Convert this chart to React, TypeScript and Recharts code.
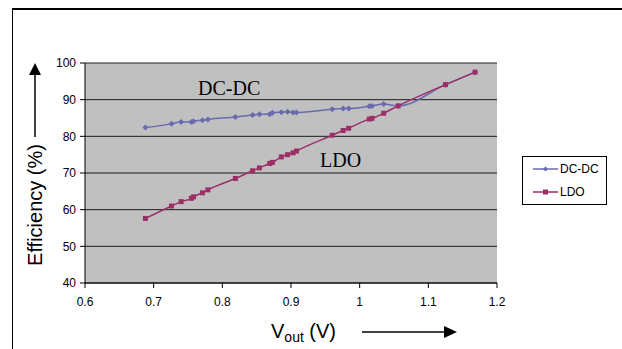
import React from "react";
import {
    LineChart,
    Line,
    XAxis,
    YAxis,
    CartesianGrid,
    Customized,
} from "recharts";

// Output voltage (V), shared by both series
const vout = [
    0.688, 0.726, 0.74, 0.755, 0.758, 0.771, 0.779, 0.819, 0.844, 0.854, 0.869, 0.873, 0.886,
    0.895, 0.903, 0.908, 0.96, 0.976, 0.984, 1.014, 1.018, 1.035, 1.056, 1.125, 1.168,
];

// Efficiency (%) per series
const dcdc = [
    82.4, 83.4, 83.9, 83.9, 84.1, 84.4, 84.6, 85.3, 85.8, 86.0, 86.0, 86.4, 86.6,
    86.7, 86.5, 86.5, 87.4, 87.6, 87.6, 88.2, 88.3, 88.8, 88.3, 94.1, 97.5,
];
const ldo = [
    57.6, 61.0, 62.2, 63.1, 63.5, 64.6, 65.4, 68.5, 70.6, 71.4, 72.6, 72.9, 74.4,
    75.0, 75.5, 76.0, 80.3, 81.6, 82.2, 84.7, 84.9, 86.3, 88.3, 94.1, 97.5,
];

const xTicks = [0.6, 0.7, 0.8, 0.9, 1, 1.1, 1.2];
const yTicks = [40, 50, 60, 70, 80, 90, 100];

const DCDC_COLOR = "#6a6aae";
const LDO_COLOR = "#9c2f68";
const SANS = "'Liberation Sans', Arial, sans-serif";
const SERIF = "'Liberation Serif', 'Times New Roman', serif";

const data = vout.map((v, i) => ({ v, dcdc: dcdc[i], ldo: ldo[i] }));

const Diamond = (props: any) => {
    const { cx, cy } = props;
    if (cx == null || cy == null) return null;
    return (
        <path
            d={`M${cx},${cy - 3} L${cx + 3},${cy} L${cx},${cy + 3} L${cx - 3},${cy} Z`}
            fill={DCDC_COLOR}
        />
    );
};

const Square = (props: any) => {
    const { cx, cy } = props;
    if (cx == null || cy == null) return null;
    return <rect x={cx - 2.5} y={cy - 2.5} width={5} height={5} fill={LDO_COLOR} />;
};

// axis titles, arrows and in-plot labels
const Annotations = () => (
    <g>
        <text x={198} y={95} fontFamily={SERIF} fontSize={20} fill="#000">DC-DC</text>
        <text x={320} y={167} fontFamily={SERIF} fontSize={20} fill="#000">LDO</text>

        <text
            x={35}
            y={205}
            transform="rotate(-90 35 205)"
            textAnchor="middle"
            dominantBaseline="central"
            fontFamily={SANS}
            fontSize={20}
            fill="#000"
        >
            Efficiency (%)
        </text>
        <line x1={35} y1={137} x2={35} y2={74} stroke="#000" strokeWidth={1.5} />
        <path d="M35,63 L41,75 L29,75 Z" fill="#000" />

        <text x={271} y={338} fontFamily={SANS} fontSize={20} fill="#000">
            V<tspan fontSize={14} dy={4}>out</tspan>
            <tspan dy={-4}> (V)</tspan>
        </text>
        <line x1={362} y1={332} x2={444} y2={332} stroke="#000" strokeWidth={1.5} />
        <path d="M457,332 L444,326 L444,338 Z" fill="#000" />
    </g>
);

const LegendBox = () => (
    <div
        style={{
            position: "absolute",
            left: 522,
            top: 156,
            width: 85,
            height: 49,
            border: "1px solid #000",
            background: "#fff",
            boxSizing: "border-box",
            fontFamily: SANS,
            fontSize: 12,
        }}
    >
        {[
            { name: "DC-DC", color: DCDC_COLOR, top: 12, square: false },
            { name: "LDO", color: LDO_COLOR, top: 35, square: true },
        ].map((item) => (
            <div key={item.name} style={{ position: "absolute", left: 10, top: item.top - 8, height: 16, display: "flex", alignItems: "center" }}>
                <svg width={25} height={16}>
                    <line x1={0} y1={8} x2={25} y2={8} stroke={item.color} strokeWidth={1.5} />
                    {item.square ? (
                        <rect x={10} y={5.5} width={5} height={5} fill={item.color} />
                    ) : (
                        <path d="M12.5,5.5 L15,8 L12.5,10.5 L10,8 Z" fill={item.color} />
                    )}
                </svg>
                <span style={{ marginLeft: 2, color: "#000" }}>{item.name}</span>
            </div>
        ))}
    </div>
);

export default function App() {
    return (
        <div style={{ position: "relative", width: 622, height: 349, background: "#fff", fontFamily: SANS }}>
            <style>{`body{margin:0}`}</style>
            {/* chart frame: top and left edges only */}
            <div
                style={{
                    position: "absolute",
                    left: 12,
                    top: 8,
                    width: 610,
                    height: 341,
                    borderTop: "2px solid #000",
                    borderLeft: "1.5px solid #000",
                    boxSizing: "border-box",
                }}
            />
            <LineChart
                width={622}
                height={349}
                data={data}
                margin={{ top: 63, right: 125, left: 45, bottom: 36 }}
                style={{ position: "absolute", left: 0, top: 0 }}
            >
                <CartesianGrid
                    vertical={false}
                    fill="#c0c0c0"
                    stroke="#000"
                    strokeOpacity={0.85}
                    horizontalValues={yTicks}
                />
                <XAxis
                    dataKey="v"
                    type="number"
                    domain={[0.6, 1.2]}
                    ticks={xTicks}
                    tickFormatter={(v) => String(v)}
                    tick={{ fill: "#000", fontSize: 12, fontFamily: SANS }}
                    axisLine={{ stroke: "#000" }}
                    tickLine={{ stroke: "#000" }}
                    tickSize={5}
                    tickMargin={9}
                    height={30}
                    allowDataOverflow
                />
                <YAxis
                    type="number"
                    domain={[40, 100]}
                    ticks={yTicks}
                    tick={{ fill: "#000", fontSize: 12, fontFamily: SANS }}
                    axisLine={{ stroke: "#000" }}
                    tickLine={{ stroke: "#000" }}
                    tickSize={5}
                    tickMargin={4}
                    width={40}
                />
                <Line
                    type="monotone"
                    dataKey="dcdc"
                    name="DC-DC"
                    stroke={DCDC_COLOR}
                    strokeWidth={1.5}
                    dot={<Diamond />}
                    activeDot={false}
                    isAnimationActive={false}
                />
                <Line
                    type="monotone"
                    dataKey="ldo"
                    name="LDO"
                    stroke={LDO_COLOR}
                    strokeWidth={1.5}
                    dot={<Square />}
                    activeDot={false}
                    isAnimationActive={false}
                />
                <Customized component={Annotations} />
            </LineChart>
            <LegendBox />
        </div>
    );
}
